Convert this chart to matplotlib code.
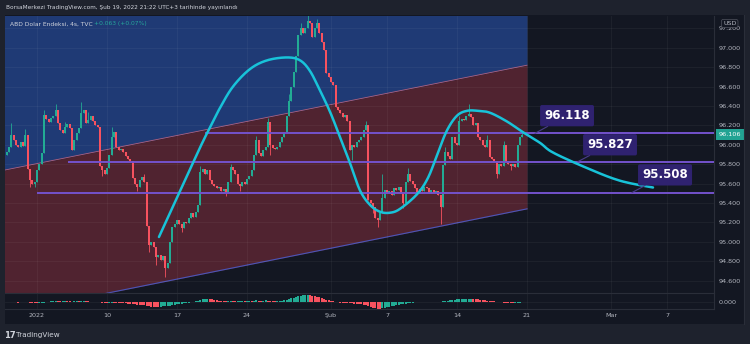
import numpy as np
import matplotlib
matplotlib.use('Agg')
import matplotlib.pyplot as plt
from matplotlib.patches import Rectangle
from matplotlib.transforms import blended_transform_factory

# 4h closes, first bar Dec 31 2021, last bar Feb 18 2022
closes = [
    95.93, 95.98, 96.10, 96.05, 96.00, 95.98, 96.03, 95.99, 96.10, 95.75,
    95.64, 95.60, 95.62, 95.74, 95.80, 95.92, 96.31, 96.27, 96.24, 96.28,
    96.30, 96.36, 96.22, 96.15, 96.12, 96.18, 96.21, 96.17, 95.95, 96.05,
    96.12, 96.17, 96.33, 96.36, 96.22, 96.26, 96.30, 96.25, 96.20, 96.18,
    95.78, 95.74, 95.70, 95.76, 95.90, 96.08, 96.13, 95.98, 95.95, 95.96,
    95.93, 95.88, 95.85, 95.83, 95.66, 95.60, 95.57, 95.64, 95.67, 95.62,
    95.16, 94.97, 95.00, 94.95, 94.84, 94.86, 94.81, 94.85, 94.73, 94.78,
    95.00, 95.15, 95.18, 95.22, 95.18, 95.14, 95.20, 95.19, 95.25, 95.30,
    95.26, 95.31, 95.38, 95.72, 95.75, 95.70, 95.74, 95.64, 95.60, 95.58,
    95.55, 95.57, 95.52, 95.54, 95.50, 95.62, 95.77, 95.74, 95.70, 95.60,
    95.58, 95.62, 95.60, 95.65, 95.68, 95.74, 95.90, 96.05, 95.92, 95.88,
    95.95, 95.98, 96.24, 96.00, 95.97, 95.96, 95.98, 96.03, 96.08, 96.13,
    96.30, 96.45, 96.60, 96.75, 96.92, 97.13, 97.20, 97.15, 97.20, 97.28,
    97.25, 97.11, 97.20, 97.25, 97.15, 97.06, 96.98, 96.74, 96.70, 96.65,
    96.62, 96.39, 96.36, 96.33, 96.29, 96.31, 96.25, 95.95, 96.00, 95.98,
    96.03, 96.05, 96.08, 96.15, 96.20, 95.43, 95.40, 95.36, 95.25, 95.22,
    95.30, 95.45, 95.53, 95.50, 95.52, 95.48, 95.55, 95.53, 95.56, 95.50,
    95.40, 95.62, 95.70, 95.63, 95.60, 95.55, 95.50, 95.54, 95.52, 95.56,
    95.55, 95.50, 95.53, 95.50, 95.52, 95.48, 95.36, 95.79, 95.93, 95.88,
    95.85, 96.08, 96.02, 96.00, 96.25, 96.27, 96.26, 96.30, 96.32, 96.29,
    96.20, 96.22, 96.08, 96.05, 96.00, 95.98, 96.05, 95.87, 95.85, 95.83,
    95.70, 95.80, 95.78, 96.00, 95.82, 95.80, 95.78, 95.80, 95.77, 96.00,
    96.08, 96.106,
]
first_open = 95.90

# notable wicks (bar index -> price)
wick_highs = {2: 96.22, 8: 96.16, 16: 96.36, 21: 96.42, 25: 96.24, 32: 96.44,
              35: 96.34, 45: 96.18, 59: 95.70, 83: 95.78, 96: 95.80, 107: 96.09,
              112: 96.28, 121: 96.52, 126: 97.25, 129: 97.34, 133: 97.30,
              141: 96.45, 154: 96.25, 161: 95.70, 172: 95.76, 188: 95.98,
              194: 96.30, 198: 96.42, 206: 96.10, 213: 96.04, 221: 96.14}
wick_lows = {10: 95.56, 12: 95.57, 41: 95.68, 56: 95.52, 61: 94.90, 64: 94.76,
             68: 94.64, 75: 95.10, 94: 95.47, 100: 95.52, 113: 95.90, 148: 95.84,
             157: 95.30, 159: 95.15, 170: 95.35, 186: 95.18, 210: 95.66, 216: 95.74}

macd_hist = [
    -0.6, -0.5, -0.4, -0.5, -0.6, -0.7, -0.6, -0.5, -0.4, -0.6, -0.9,
    -1.2, -1.5, -1.6, -1.4, -1.1, -0.7, -0.3, 0.1,
    0.4, 0.7, 0.9, 0.8, 0.7, 0.8, 0.9, 0.7, 0.5, 0.3, 0.4, 0.6, 0.5,
    0.6, 0.7, 0.5, 0.4, 0.3, 0.2, 0.1, -0.2, -0.5, -0.8,
    -1.0, -1.1, -0.9, -0.7, -0.8, -1.0, -1.2, -1.3, -1.5, -1.6, -1.8, -2.0,
    -2.3, -2.6, -2.9, -3.1, -3.3, -3.6, -4.0, -4.4, -4.7, -4.9, -5.0, -5.1,
    -4.9, -4.6, -4.3, -4.0, -3.7, -3.3, -3.0, -2.6, -2.3, -1.9, -1.6, -1.2, -0.9, -0.5, -0.2,
    0.4, 1.2, 2.0, 2.6, 3.0, 3.2,
    2.9, 2.5, 2.1, 1.7, 1.3,
    1.1, 0.9, 0.8, 0.9, 1.0, 0.9, 0.8, 0.9, 1.0,
    1.1, 1.0, 1.2, 1.3, 1.2, 1.4, 1.5, 1.3, 1.2, 1.3, 1.5, 1.4, 1.2, 1.1, 1.0, 1.1, 1.2, 1.3, 1.5, 2.0,
    2.7, 3.5, 4.3, 5.0, 5.6, 6.1, 6.5, 6.8, 6.9, 6.7,
    6.3, 5.8, 5.2, 4.5, 3.8, 3.1, 2.4, 1.7, 1.0, 0.4,
    -0.2, -0.6, -0.9, -1.1, -1.2, -1.3, -1.5, -1.6, -1.7, -1.8, -1.9, -2.1,
    -2.8, -3.6, -4.5, -5.3, -6.0, -6.5, -6.9, -7.0,
    -6.6, -6.1, -5.6, -5.1, -4.6, -4.1, -3.6, -3.1, -2.6, -2.2, -1.8, -1.4, -1.0, -0.7,
    -0.5, -0.4, -0.3, -0.3, -0.2, -0.2, -0.1, 0.0, 0.1, 0.1, 0.2, 0.3,
    0.6, 1.0, 1.4, 1.7, 2.0, 2.3, 2.6, 2.8, 3.0, 3.2, 3.3, 3.4,
    3.4, 3.3, 3.1, 2.8,
    2.4, 2.0, 1.6, 1.3, 1.0, 0.7, 0.4, 0.1,
    -0.3, -0.6, -0.9, -1.1, -1.3, -1.4, -1.5, -1.4,
    -1.2, -0.9, -0.6,
]

# time axis in trading days from Jan 3 2022
tick_days = [0, 5, 10, 15, 21, 25, 30, 35, 41, 45]
tick_labels = ['2022', '10', '17', '24', 'Şub', '7', '14', '21', 'Mar', '7']
price_ticks = [94.6, 94.8, 95.0, 95.2, 95.4, 95.6, 95.8, 96.0, 96.2, 96.4, 96.6, 96.8, 97.0, 97.2]

# drawings
level_prices = [96.118, 95.827, 95.508]
level_from_days = [12.0, 2.2, 0.0]
callout_days = [37.86, 40.93, 44.86]
callout_prices = [96.30, 96.00, 95.69]
callout_tail_days = [35.57, 38.64, 42.50]

channel_days = [-2.64, 35.0]
channel_top = [95.73, 96.82]
channel_height = 1.48

# control points of the hand-drawn curve
curve_days = [8.71, 10.21, 11.64, 12.36, 13.07, 14.0, 15.21, 16.43, 17.86, 18.79,
              19.5, 20.21, 20.93, 21.64, 22.36, 23.07, 23.79, 24.5, 25.21, 25.93,
              27.14, 27.93, 28.64, 29.29, 30.0, 30.71, 31.5, 32.36, 33.57, 34.71,
              35.93, 36.86, 39.29, 41.64, 44.0]
curve_prices = [95.05, 95.52, 95.97, 96.18, 96.38, 96.60, 96.78, 96.87, 96.90, 96.87,
                96.76, 96.56, 96.34, 96.08, 95.81, 95.53, 95.38, 95.31, 95.30, 95.34,
                95.49, 95.66, 95.92, 96.15, 96.30, 96.35, 96.35, 96.33, 96.24, 96.13,
                96.02, 95.92, 95.76, 95.63, 95.56]

last_price = 96.106
header = 'BorsaMerkezi TradingView.com, Şub 19, 2022 21:22 UTC+3 tarihinde yayınlandı'
legend_name = 'ABD Dolar Endeksi, 4s, TVC'
legend_change = '+0.063 (+0.07%)'

UP = '#22ab94'
DOWN = '#f7525f'
BG = '#131722'
FRAME = '#1e222d'
TXT = '#b2b5be'
GRID = '#2a2e39'


def fx(px):
    return px / 750


def fy(py):
    return 1 - py / 344


def smooth_path(xs, ys, steps=10):
    # Catmull-Rom through the control points, only for drawing a smooth stroke
    p = np.column_stack([xs, ys])
    p = np.vstack([p[0], p, p[-1]])
    out = []
    t = np.linspace(0, 1, steps, endpoint=False)[:, None]
    for k in range(1, len(p) - 2):
        p0, p1, p2, p3 = p[k - 1], p[k], p[k + 1], p[k + 2]
        out.append(0.5 * ((2 * p1) + (-p0 + p2) * t + (2 * p0 - 5 * p1 + 4 * p2 - p3) * t ** 2
                          + (-p0 + 3 * p1 - 3 * p2 + p3) * t ** 3))
    out.append(p[-2][None, :])
    out = np.vstack(out)
    return out[:, 0], out[:, 1]


fig = plt.figure(figsize=(7.5, 3.44), dpi=100, facecolor=FRAME)
fig.patches.append(Rectangle((fx(5), fy(324)), fx(744) - fx(5), fy(15) - fy(324),
                             transform=fig.transFigure, fc=BG, ec='none', zorder=-5))

ax = fig.add_axes([fx(5), fy(293), fx(714) - fx(5), fy(16) - fy(293)], facecolor=BG)
ax2 = fig.add_axes([fx(5), fy(309), fx(714) - fx(5), fy(293) - fy(309)], facecolor=BG, sharex=ax)

xlim = (-2.286, 48.357)
ylim = (94.473, 97.327)

# candles
c = np.array(closes)
o = np.concatenate([[first_open], c[:-1]])
days = (np.arange(len(c)) - 13) / 6
hi = np.maximum(o, c)
lo = np.minimum(o, c)
for i, v in wick_highs.items():
    hi[i] = max(hi[i], v)
for i, v in wick_lows.items():
    lo[i] = min(lo[i], v)
cols = np.where(c >= o, UP, DOWN)

# channel
ch_d = np.array(channel_days)
ch_top = np.array(channel_top)
ax.fill_between(ch_d, ch_top, ylim[1] + 1, color='#1f3a75', lw=0, zorder=1)
ax.fill_between(ch_d, ch_top - channel_height, ch_top, color='#502330', lw=0, zorder=1)
ax.plot(ch_d, ch_top, color='#b0607e', lw=0.6, zorder=1.2)
ax.plot(ch_d, ch_top - channel_height, color='#4b55b8', lw=0.8, zorder=1.2)

ax.vlines(days, lo, hi, colors=cols, lw=0.6, zorder=3)
ax.bar(days, np.maximum(np.abs(c - o), 0.006), bottom=np.minimum(o, c),
       width=0.13, color=cols, lw=0, zorder=3.1)

# horizontal levels
for p, d0 in zip(level_prices, level_from_days):
    ax.plot([d0, xlim[1] + 1], [p, p], color='#7352cc', lw=1.4, zorder=4, solid_capstyle='butt')

# hand-drawn curve
sx, sy = smooth_path(curve_days, curve_prices)
ax.plot(sx, sy, color='#18c3d9', lw=1.8, zorder=5,
        solid_capstyle='round', solid_joinstyle='round')

# callouts
for p, cd, cp, td in zip(level_prices, callout_days, callout_prices, callout_tail_days):
    ax.annotate(f'{p:.3f}', xy=(td, p), xytext=(cd, cp), ha='center', va='center',
                color='white', fontsize=8.5, fontweight='bold', zorder=6,
                bbox=dict(boxstyle='round,pad=0.35,rounding_size=0.15', fc='#2f2270', ec='none'),
                arrowprops=dict(arrowstyle='-', color='#4a3c8c', lw=0.8, shrinkA=0, shrinkB=0))

ax.set_xlim(xlim)
ax.set_ylim(ylim)
ax.yaxis.tick_right()
ax.set_yticks(price_ticks, [f'{t:.3f}' for t in price_ticks])
ax.set_xticks(tick_days)
ax.tick_params(axis='y', length=0, pad=3.6, labelsize=4.6, labelcolor=TXT)
ax.tick_params(axis='x', length=0, labelbottom=False)
ax.grid(True, color='white', alpha=0.05, lw=0.6)
for s in ['left', 'top', 'bottom']:
    ax.spines[s].set_visible(False)
ax.spines['right'].set_color(GRID)
ax.spines['right'].set_linewidth(0.8)

# last price tag and currency box
tr = blended_transform_factory(ax.transAxes, ax.transData)
ax.text(1.0 + 5 / 709, last_price, f'{last_price:.3f}', transform=tr, ha='left', va='center',
        fontsize=4.6, color='white', clip_on=False, zorder=7,
        bbox=dict(boxstyle='square,pad=0.5', fc='#22a393', ec='none'))
ax.text(1.0 + 9 / 709, 97.25, 'USD', transform=tr, ha='left', va='center',
        fontsize=4.6, color=TXT, clip_on=False, zorder=7,
        bbox=dict(boxstyle='round,pad=0.25,rounding_size=0.3', fc=BG, ec='#50535e', lw=0.5))

# histogram pane
h = np.array(macd_hist)
hprev = np.concatenate([[h[0]], h[:-1]])
hcols = np.where(h >= hprev, UP, DOWN)
ax2.bar(days, h, width=0.16, color=hcols, lw=0, zorder=3)
ax2.set_ylim(-7.2, 9)
ax2.yaxis.tick_right()
ax2.set_yticks([0], ['0.000'])
ax2.set_xticks(tick_days, tick_labels)
ax2.tick_params(axis='y', length=0, pad=3.6, labelsize=4.6, labelcolor=TXT)
ax2.tick_params(axis='x', length=0, pad=3.0, labelsize=4.6, labelcolor=TXT)
ax2.grid(True, color='white', alpha=0.05, lw=0.6)
ax2.spines['left'].set_visible(False)
for s in ['right', 'top', 'bottom']:
    ax2.spines[s].set_color(GRID)
    ax2.spines[s].set_linewidth(0.8)

fig.add_artist(plt.Line2D([fx(744), fx(744)], [fy(15), fy(324)], color=GRID, lw=0.8))

# header, legend, footer
fig.text(fx(6), fy(7.5), header, fontsize=4.15, color='#d1d4dc', va='center', ha='left')
fig.text(fx(10), fy(24), legend_name, fontsize=4.3, color='#d1d4dc', va='center', ha='left')
fig.text(fx(94), fy(24), legend_change, fontsize=4.3, color='#26a69a', va='center', ha='left')
fig.text(fx(4), fy(335), '17', fontsize=6, fontweight='bold', color='#d1d4dc', va='center', ha='left')
fig.text(fx(16), fy(335), 'TradingView', fontsize=5.2, color='#d1d4dc', va='center', ha='left')

fig.savefig('out.png', dpi=100, facecolor=FRAME)
